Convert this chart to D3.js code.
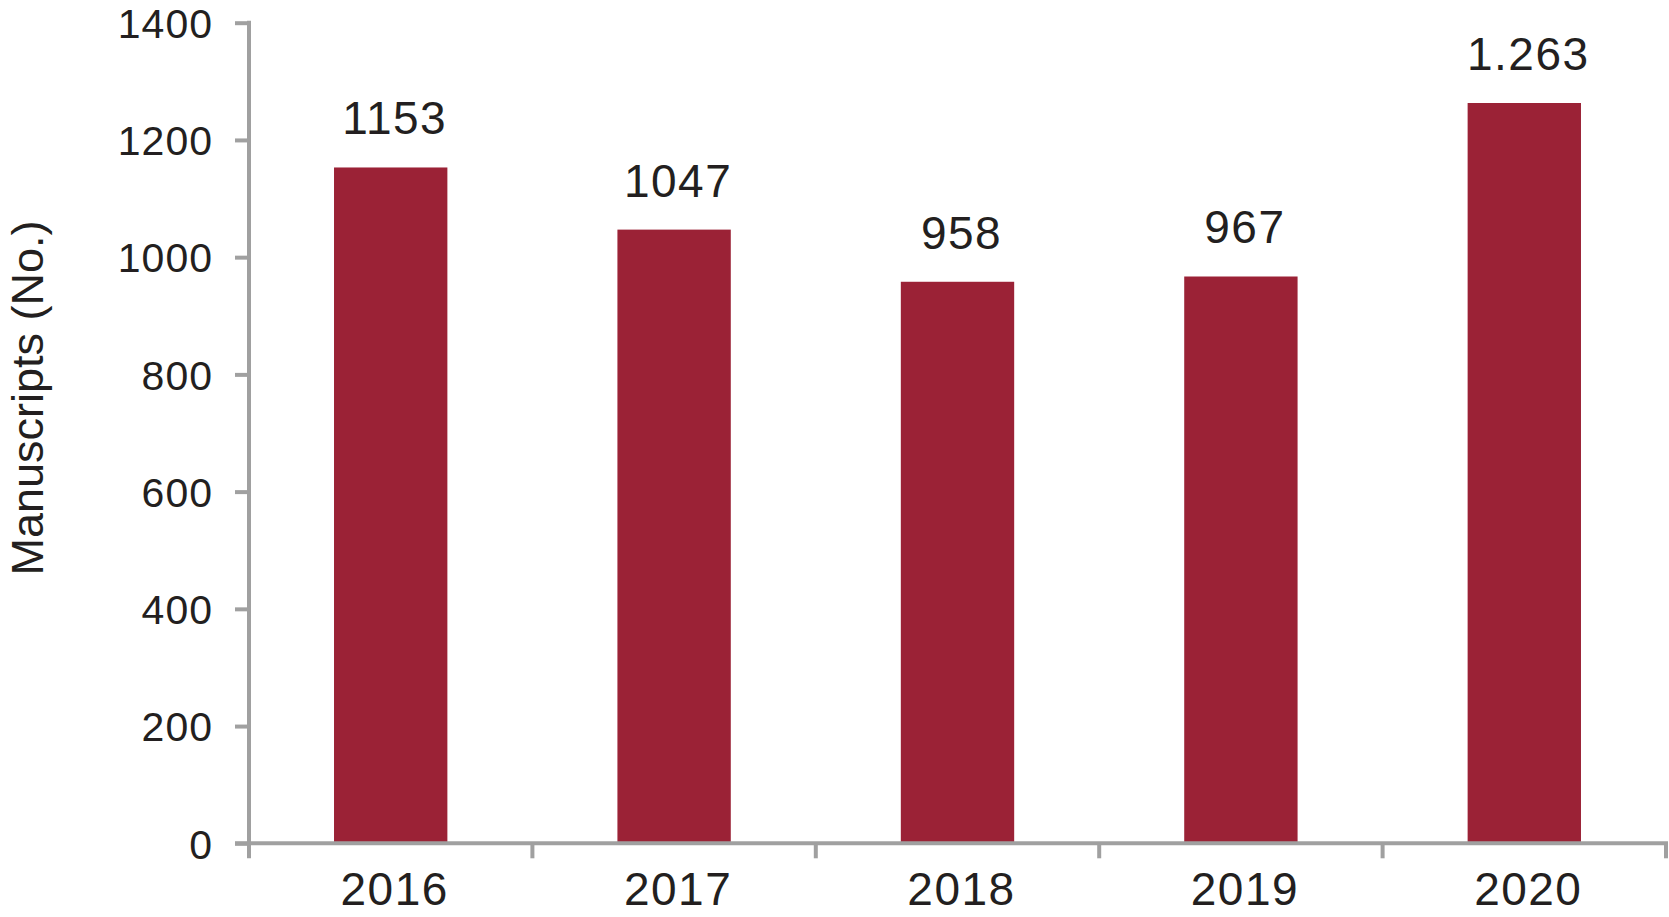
<!DOCTYPE html>
<html>
<head>
<meta charset="utf-8">
<script src="https://cdn.jsdelivr.net/npm/d3@7"></script>
<style>
  html, body { margin: 0; padding: 0; background: #fff; }
  svg { display: block; }
  text { font-family: "Liberation Sans", Arial, Helvetica, sans-serif; fill: #231f20; }
</style>
</head>
<body>
<svg id="chart" width="1669" height="917"></svg>
<script>
const years = ["2016", "2017", "2018", "2019", "2020"];
const manuscripts = [1153, 1047, 958, 967, 1263];
const valueLabels = ["1153", "1047", "958", "967", "1.263"];
const yTicks = [0, 200, 400, 600, 800, 1000, 1200, 1400];
const yTitle = "Manuscripts (No.)";

const plotLeft = 249, plotRight = 1666, plotTop = 22.7, plotBottom = 843.3;
const axisColor = "#a0a0a0";
const barColor = "#9b2236";

const svg = d3.select("#chart");

const x = d3.scaleBand().domain(years).range([plotLeft, plotRight]).paddingInner(0.6).paddingOuter(0.3);
const y = d3.scaleLinear().domain([0, 1400]).range([plotBottom, plotTop]);

// bars
svg.append("g").selectAll("rect")
  .data(years)
  .join("rect")
  .attr("x", d => x(d))
  .attr("width", x.bandwidth())
  .attr("y", (d, i) => y(manuscripts[i]))
  .attr("height", (d, i) => y(0) - y(manuscripts[i]))
  .attr("fill", barColor);

// value labels
svg.append("g").selectAll("text")
  .data(years)
  .join("text")
  .attr("x", d => x(d) + x.bandwidth() / 2 + 4)
  .attr("y", (d, i) => y(manuscripts[i]) - 33)
  .attr("text-anchor", "middle")
  .style("font-size", "46px")
  .style("letter-spacing", "1.5px")
  .text((d, i) => valueLabels[i]);

// y axis
const yAxis = d3.axisLeft(y).tickValues(yTicks).tickSize(14).tickPadding(22).tickFormat(d3.format("d"));
const gy = svg.append("g").attr("transform", `translate(${plotLeft},0)`).call(yAxis);
gy.select(".domain").remove();
gy.selectAll(".tick line").attr("stroke", axisColor).attr("stroke-width", 4);
gy.selectAll(".tick text").style("font-size", "41px").style("letter-spacing", "1px").attr("fill", "#231f20").attr("dy", "0.36em");
gy.append("line")
  .attr("x1", 0).attr("x2", 0)
  .attr("y1", y(1400) - 2).attr("y2", plotBottom + 15)
  .attr("stroke", axisColor).attr("stroke-width", 4);

// x axis
const gx = svg.append("g");
gx.append("line")
  .attr("x1", plotLeft - 14).attr("x2", plotRight + 2)
  .attr("y1", plotBottom).attr("y2", plotBottom)
  .attr("stroke", axisColor).attr("stroke-width", 4);
const boundaries = d3.range(years.length + 1).map(i => x.range()[0] + i * x.step());
gx.selectAll("line.tk")
  .data(boundaries.slice(1))
  .join("line")
  .attr("class", "tk")
  .attr("x1", d => d).attr("x2", d => d)
  .attr("y1", plotBottom).attr("y2", plotBottom + 15)
  .attr("stroke", axisColor).attr("stroke-width", 4);
gx.selectAll("text")
  .data(years)
  .join("text")
  .attr("x", d => x(d) + x.bandwidth() / 2 + 4)
  .attr("y", 905)
  .attr("text-anchor", "middle")
  .style("font-size", "46px")
  .style("letter-spacing", "1.5px")
  .text(d => d);

// y title
svg.append("text")
  .attr("transform", `translate(43, 398) rotate(-90)`)
  .attr("text-anchor", "middle")
  .style("font-size", "45px")
  .text(yTitle);
</script>
</body>
</html>
